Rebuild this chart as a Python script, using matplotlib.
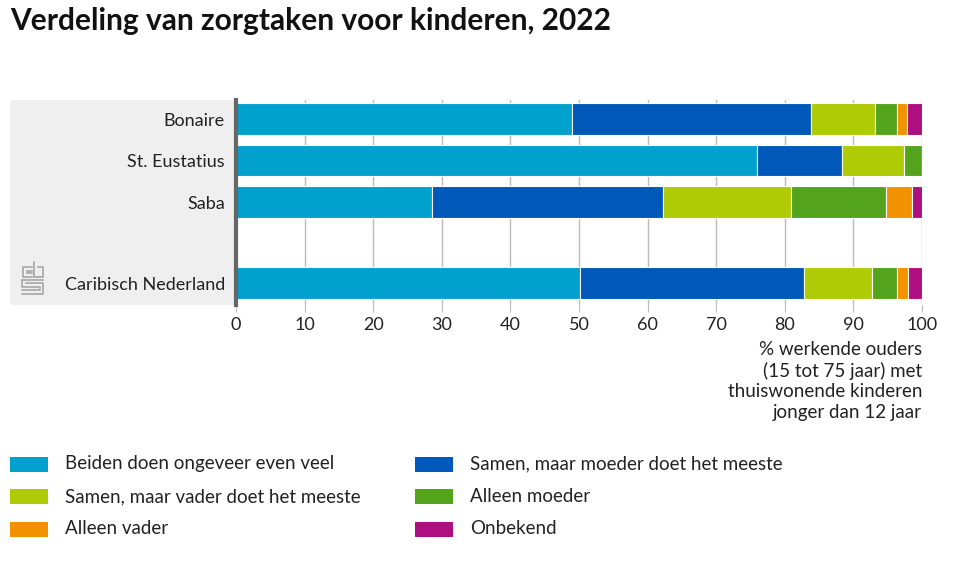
import numpy as np
import matplotlib.pyplot as plt
from matplotlib.patches import FancyBboxPatch, Rectangle
from matplotlib.lines import Line2D

plt.rcParams['font.family'] = ['Lato', 'DejaVu Sans']

# data
regions = ['Bonaire', 'St. Eustatius', 'Saba', 'Caribisch Nederland']
categories = ['Beiden doen ongeveer even veel',
              'Samen, maar moeder doet het meeste',
              'Samen, maar vader doet het meeste',
              'Alleen moeder',
              'Alleen vader',
              'Onbekend']
beiden = [49.0, 76.0, 28.5, 50.2]
moeder_meeste = [34.8, 12.4, 33.8, 32.6]
vader_meeste = [9.4, 9.0, 18.6, 9.9]
alleen_moeder = [3.1, 2.6, 13.9, 3.7]
alleen_vader = [1.5, 0.0, 3.7, 1.6]
onbekend = [2.2, 0.0, 1.5, 2.0]
colors = ['#00a1cd', '#0058b8', '#afcb05', '#53a31d', '#f39200', '#af0e80']
xticks = [0, 10, 20, 30, 40, 50, 60, 70, 80, 90, 100]

series = [beiden, moeder_meeste, vader_meeste, alleen_moeder, alleen_vader, onbekend]
ypos = np.array([0, 1, 2, 3.95])

fig = plt.figure(figsize=(9.6, 5.79), dpi=100)
W, H = 960, 579

def fx(px):
    return px / W

def fy(py):
    return 1 - py / H

# grey panel behind the region labels
panel = FancyBboxPatch((fx(10), fy(305)), fx(236) - fx(10), fy(100) - fy(305),
                       boxstyle='round,pad=0,rounding_size=0.006',
                       transform=fig.transFigure, facecolor='#efefef',
                       edgecolor='none', zorder=-1)
fig.patches.append(panel)

ax = fig.add_axes([fx(236), fy(305), fx(922) - fx(236), fy(100) - fy(305)])
ax.set_facecolor('none')

left = np.zeros(len(regions))
for vals, col in zip(series, colors):
    vals = np.array(vals)
    ax.barh(ypos, vals, left=left, height=0.76, color=col,
            edgecolor='white', linewidth=0.8, zorder=3)
    left += vals

ax.set_xlim(0, 100)
ax.set_ylim(4.48, -0.46)
ax.set_xticks(xticks)
ax.set_xticklabels([str(t) for t in xticks], fontsize=13, color='#222222')
ax.set_yticks(ypos)
ax.set_yticklabels(regions, fontsize=13, color='#222222')
ax.tick_params(axis='y', length=0, pad=8)
ax.tick_params(axis='x', length=5, color='#bbbbbb', pad=4)
ax.grid(axis='x', color='#bbbbbb', linewidth=1, zorder=0)
for s in ['top', 'right', 'bottom']:
    ax.spines[s].set_visible(False)
ax.spines['left'].set_color('#666666')
ax.spines['left'].set_linewidth(3)
ax.spines['left'].set_zorder(5)

# title
fig.text(fx(10), fy(21), 'Verdeling van zorgtaken voor kinderen, 2022',
         fontsize=21.5, fontweight='bold', color='#111111', va='center', ha='left')

# x axis label
fig.text(fx(922), fy(341), '% werkende ouders\n(15 tot 75 jaar) met\nthuiswonende kinderen\njonger dan 12 jaar',
         fontsize=13.5, color='#222222', ha='right', va='top', linespacing=1.25)

# cbs logo (rough)
lc = '#a0a0a0'
logo = [
    [(32, 267), (23, 267), (23, 277), (32, 277)],
    [(32, 271), (27, 271), (27, 273), (32, 273)],
    [(34, 262), (34, 277), (43, 277), (43, 267), (38, 267)],
    [(22, 280), (43, 280)],
    [(22, 280), (22, 287), (40, 287), (40, 290), (22, 290)],
    [(26, 283), (43, 283), (43, 294), (22, 294)],
]
for pts in logo:
    xs = [fx(p[0]) for p in pts]
    ys = [fy(p[1]) for p in pts]
    fig.lines.append(Line2D(xs, ys, transform=fig.transFigure, color=lc, linewidth=1.1))

# legend, two columns
for i, (lab, col) in enumerate(zip(categories, colors)):
    row, c = i // 2, i % 2
    x0 = 10 if c == 0 else 415
    yc = 464 + row * 32.5
    fig.patches.append(Rectangle((fx(x0), fy(yc + 7.5)), fx(38), 15 / H,
                                 transform=fig.transFigure, facecolor=col,
                                 edgecolor='none'))
    fig.text(fx(x0 + 55), fy(yc), lab, fontsize=13.5, color='#222222',
             va='center', ha='left')

fig.savefig('out.png', dpi=100)
